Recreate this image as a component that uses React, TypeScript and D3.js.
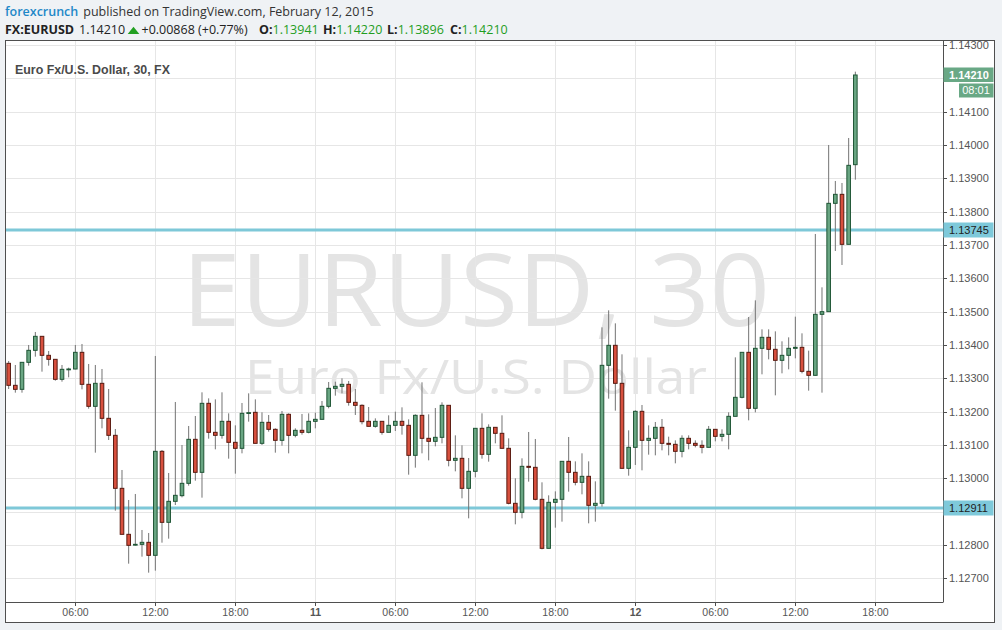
import React from "react";
import * as d3 from "d3";

// ---- Data (EUR/USD, 30-minute candles, starting Feb 10 2015 01:00) ----
const startTime = Date.UTC(2015, 1, 10, 1, 0);
const barMinutes = 30;

const opens = [
  1.13345, 1.13279, 1.13267, 1.13348, 1.13384, 1.13426, 1.13369, 1.13357, 1.13297, 1.13327,
  1.13328, 1.13378, 1.13282, 1.13216, 1.13285, 1.13180, 1.13129, 1.12970, 1.12832, 1.12800,
  1.12802, 1.12808, 1.12769, 1.13081, 1.12868, 1.12931, 1.12948, 1.12985, 1.13117, 1.13018,
  1.13225, 1.13138, 1.13129, 1.13171, 1.13108, 1.13090, 1.13195, 1.13198, 1.13105, 1.13168,
  1.13147, 1.13114, 1.13192, 1.13129, 1.13144, 1.13138, 1.13171, 1.13177, 1.13216, 1.13270,
  1.13276, 1.13282, 1.13228, 1.13219, 1.13171, 1.13156, 1.13171, 1.13138, 1.13159, 1.13171,
  1.13159, 1.13069, 1.13189, 1.13120, 1.13111, 1.13123, 1.13219, 1.13054, 1.13060, 1.12970,
  1.13021, 1.13150, 1.13072, 1.13153, 1.13135, 1.13090, 1.12925, 1.12898, 1.13036, 1.13033,
  1.12937, 1.12790, 1.12928, 1.12937, 1.13051, 1.13018, 1.12988, 1.13006, 1.12919, 1.12925,
  1.13339, 1.13399, 1.13285, 1.13030, 1.13093, 1.13201, 1.13114, 1.13120, 1.13153, 1.13105,
  1.13102, 1.13081, 1.13120, 1.13105, 1.13099, 1.13093, 1.13147, 1.13126, 1.13132, 1.13186,
  1.13243, 1.13378, 1.13210, 1.13390, 1.13423, 1.13387, 1.13354, 1.13369, 1.13390, 1.13393,
  1.13321, 1.13309, 1.13492, 1.13500, 1.13825, 1.13852, 1.13702, 1.13941,
];

const highs = [
  1.13352, 1.13340, 1.13348, 1.13400, 1.13439, 1.13426, 1.13382, 1.13357, 1.13340, 1.13332,
  1.13400, 1.13403, 1.13343, 1.13340, 1.13328, 1.13268, 1.13148, 1.13025, 1.12935, 1.12953,
  1.12845, 1.12836, 1.13367, 1.13085, 1.13016, 1.13229, 1.13100, 1.13157, 1.13187, 1.13258,
  1.13240, 1.13237, 1.13258, 1.13195, 1.13159, 1.13226, 1.13255, 1.13237, 1.13198, 1.13190,
  1.13150, 1.13202, 1.13195, 1.13150, 1.13193, 1.13195, 1.13197, 1.13232, 1.13289, 1.13290,
  1.13300, 1.13292, 1.13268, 1.13222, 1.13214, 1.13180, 1.13171, 1.13189, 1.13200, 1.13213,
  1.13177, 1.13192, 1.13288, 1.13192, 1.13211, 1.13228, 1.13219, 1.13129, 1.13099, 1.13061,
  1.13150, 1.13195, 1.13162, 1.13153, 1.13189, 1.13120, 1.13000, 1.13060, 1.13139, 1.13118,
  1.12988, 1.12949, 1.12961, 1.13051, 1.13124, 1.13051, 1.13075, 1.13051, 1.12991, 1.13453,
  1.13504, 1.13465, 1.13372, 1.13144, 1.13204, 1.13220, 1.13159, 1.13169, 1.13178, 1.13125,
  1.13114, 1.13129, 1.13129, 1.13114, 1.13114, 1.13157, 1.13147, 1.13147, 1.13198, 1.13363,
  1.13378, 1.13484, 1.13534, 1.13447, 1.13447, 1.13441, 1.13411, 1.13423, 1.13485, 1.13435,
  1.13383, 1.13733, 1.13573, 1.14000, 1.13892, 1.13886, 1.14021, 1.14220,
];

const lows = [
  1.13268, 1.13257, 1.13257, 1.13338, 1.13365, 1.13320, 1.13338, 1.13293, 1.13290, 1.13303,
  1.13327, 1.13267, 1.13209, 1.13077, 1.13150, 1.13115, 1.12903, 1.12832, 1.12744, 1.12798,
  1.12765, 1.12717, 1.12723, 1.12807, 1.12819, 1.12920, 1.12943, 1.12978, 1.12993, 1.12942,
  1.13119, 1.13087, 1.13119, 1.13059, 1.13014, 1.13075, 1.13170, 1.13105, 1.13100, 1.13140,
  1.13077, 1.13098, 1.13075, 1.13123, 1.13131, 1.13135, 1.13150, 1.13177, 1.13210, 1.13248,
  1.13255, 1.13218, 1.13190, 1.13162, 1.13156, 1.13152, 1.13131, 1.13138, 1.13142, 1.13131,
  1.13011, 1.13032, 1.13075, 1.13054, 1.13096, 1.13105, 1.13036, 1.13021, 1.12940, 1.12880,
  1.13003, 1.13059, 1.13050, 1.13105, 1.13090, 1.12922, 1.12862, 1.12880, 1.12990, 1.12934,
  1.12787, 1.12790, 1.12852, 1.12870, 1.12960, 1.12979, 1.12952, 1.12865, 1.12870, 1.12915,
  1.13239, 1.13203, 1.13030, 1.13008, 1.13040, 1.13024, 1.13071, 1.13069, 1.13084, 1.13069,
  1.13045, 1.13063, 1.13087, 1.13093, 1.13075, 1.13093, 1.13111, 1.13111, 1.13087, 1.13186,
  1.13240, 1.13174, 1.13198, 1.13312, 1.13357, 1.13249, 1.13315, 1.13327, 1.13360, 1.13315,
  1.13263, 1.13308, 1.13257, 1.13500, 1.13682, 1.13640, 1.13702, 1.13896,
];

const closes = [
  1.13279, 1.13267, 1.13348, 1.13384, 1.13426, 1.13369, 1.13357, 1.13297, 1.13327, 1.13328,
  1.13378, 1.13282, 1.13216, 1.13285, 1.13180, 1.13129, 1.12970, 1.12832, 1.12799, 1.12802,
  1.12808, 1.12769, 1.13081, 1.12868, 1.12931, 1.12949, 1.12985, 1.13117, 1.13018, 1.13225,
  1.13138, 1.13129, 1.13171, 1.13108, 1.13090, 1.13195, 1.13197, 1.13105, 1.13168, 1.13147,
  1.13114, 1.13192, 1.13129, 1.13144, 1.13138, 1.13171, 1.13177, 1.13216, 1.13270, 1.13276,
  1.13282, 1.13228, 1.13219, 1.13170, 1.13156, 1.13171, 1.13138, 1.13159, 1.13171, 1.13159,
  1.13069, 1.13189, 1.13120, 1.13111, 1.13123, 1.13219, 1.13054, 1.13060, 1.12970, 1.13021,
  1.13150, 1.13072, 1.13153, 1.13135, 1.13090, 1.12925, 1.12898, 1.13036, 1.13033, 1.12937,
  1.12790, 1.12928, 1.12937, 1.13051, 1.13018, 1.12988, 1.13006, 1.12919, 1.12925, 1.13339,
  1.13399, 1.13285, 1.13030, 1.13093, 1.13201, 1.13114, 1.13120, 1.13153, 1.13105, 1.13102,
  1.13081, 1.13120, 1.13105, 1.13099, 1.13093, 1.13147, 1.13126, 1.13132, 1.13186, 1.13243,
  1.13378, 1.13210, 1.13390, 1.13423, 1.13387, 1.13354, 1.13369, 1.13390, 1.13393, 1.13321,
  1.13309, 1.13492, 1.13500, 1.13825, 1.13852, 1.13702, 1.13939, 1.14210,
];

const priceTicks = [
  1.127, 1.128, 1.129, 1.13, 1.131, 1.132, 1.133, 1.134, 1.135, 1.136, 1.137, 1.138, 1.139,
  1.14, 1.141, 1.142, 1.143,
];
const levelLines = [1.13745, 1.12911];
const lastPrice = 1.1421;
const countdown = "08:01";

const headerFields = [
  { label: "O:", value: "1.13941" },
  { label: "H:", value: "1.14220" },
  { label: "L:", value: "1.13896" },
  { label: "C:", value: "1.14210" },
];

// ---- Layout ----
const W = 1002;
const H = 630;
const plot = { left: 6, right: 943, top: 40.5, bottom: 602 };
const frame = { left: 5.5, right: 994.5, top: 40.5, bottom: 622.5 };

const BG = "#eff2f5";
const GRID = "#e6e6e6";
const AXIS = "#4f4f4f";
const LEVEL = "#7ec8d8";
const UP_FILL = "#6aa683";
const UP_LINE = "#1f5535";
const DN_FILL = "#d8503e";
const DN_LINE = "#5a1a10";
const WICK = "#737373";
const LABEL_FONT = "'Liberation Sans', Arial, sans-serif";
const HEAD_FONT = "'Open Sans', 'Liberation Sans', sans-serif";

export default function App() {
  const candles = opens.map((o, i) => ({
    t: new Date(startTime + i * barMinutes * 60000),
    o,
    h: highs[i],
    l: lows[i],
    c: closes[i],
  }));

  const x = d3
    .scaleUtc()
    .domain([new Date(Date.UTC(2015, 1, 10, 6)), new Date(Date.UTC(2015, 1, 12, 18))])
    .range([75.33, 875.33]);
  const y = d3.scaleLinear().domain([1.127, 1.143]).range([578.33, 45]);

  const timeTicks = x
    .ticks(d3.utcHour.every(6) as any)
    .filter((d) => x(d) > plot.left && x(d) < plot.right);
  const fmtPrice = d3.format(".5f");
  const fmtHour = d3.utcFormat("%H:%M");

  // price labels that sit under a highlighted box are not drawn
  const boxed = [...levelLines, lastPrice];
  const visibleTickLabels = priceTicks.filter((p) => boxed.every((b) => Math.abs(y(p) - y(b)) > 9));

  const bodyW = 3.6;

  return (
    <svg
      width={W}
      height={H}
      style={{ position: "absolute", left: 0, top: 0, display: "block" }}
      fontFamily={LABEL_FONT}
    >
      <defs>
        <clipPath id="plotClip">
          <rect x={plot.left} y={plot.top} width={plot.right - plot.left} height={plot.bottom - plot.top} />
        </clipPath>
        <clipPath id="frameClip">
          <rect x={frame.left} y={frame.top} width={frame.right - frame.left} height={frame.bottom - frame.top} />
        </clipPath>
      </defs>
      <rect x={0} y={0} width={W} height={H} fill={BG} />

      {/* Header */}
      <text x={5} y={16} fontFamily={HEAD_FONT} fontSize={12.5}>
        <tspan fill="#1e88c8" fontWeight={600}>forexcrunch</tspan>
        <tspan fill="#333" dx={5}>published on TradingView.com, February 12, 2015</tspan>
      </text>
      <text x={5} y={34} fontFamily={HEAD_FONT} fontSize={12.5} fill="#222" fontWeight={700}>
        FX:EURUSD
      </text>
      <text x={79} y={34} fontFamily={HEAD_FONT} fontSize={12.5} fill="#222">
        {fmtPrice(lastPrice)}
      </text>
      <path d="M127.7,34 L133.5,26.8 L139.3,34 Z" fill="#22a022" />
      <text x={141.5} y={34} fontFamily={HEAD_FONT} fontSize={12.5} fill="#222">
        +0.00868 (+0.77%)
      </text>
      {headerFields.map((f, i) => {
        const xs = [259, 323, 387, 450][i];
        return (
          <text key={f.label} x={xs} y={34} fontFamily={HEAD_FONT} fontSize={12.5}>
            <tspan fill="#222" fontWeight={700}>{f.label}</tspan>
            <tspan fill="#1f9e1f">{f.value}</tspan>
          </text>
        );
      })}

      {/* Chart frame */}
      <rect
        x={frame.left}
        y={frame.top}
        width={frame.right - frame.left}
        height={frame.bottom - frame.top}
        fill="#fff"
      />

      <g clipPath="url(#plotClip)">
        {/* Watermark */}
        <text
          x={182}
          y={326}
          fontFamily={HEAD_FONT}
          fontSize={101}
          fill="#e4e4e4"
          textLength={588}
          lengthAdjust="spacingAndGlyphs"
        >
          EURUSD, 30
        </text>
        <text
          x={245}
          y={394}
          fontFamily={HEAD_FONT}
          fontSize={48}
          fill="#e4e4e4"
          textLength={462}
          lengthAdjust="spacingAndGlyphs"
        >
          Euro Fx/U.S. Dollar
        </text>

        {/* Grid */}
        {priceTicks.map((p) => (
          <line
            key={"gy" + p}
            x1={plot.left}
            x2={plot.right}
            y1={Math.round(y(p)) + 0.5}
            y2={Math.round(y(p)) + 0.5}
            stroke={GRID}
          />
        ))}
        {timeTicks.map((t) => (
          <line
            key={"gx" + t.getTime()}
            x1={Math.round(x(t)) + 0.5}
            x2={Math.round(x(t)) + 0.5}
            y1={plot.top}
            y2={plot.bottom}
            stroke={GRID}
          />
        ))}

        {/* Level lines */}
        {levelLines.map((p) => (
          <line key={"lv" + p} x1={plot.left} x2={plot.right} y1={y(p)} y2={y(p)} stroke={LEVEL} strokeWidth={3} />
        ))}

        {/* Candles */}
        {candles.map((d, i) => {
          const cx = x(d.t);
          const up = d.c >= d.o;
          const top = y(Math.max(d.o, d.c));
          const bot = y(Math.min(d.o, d.c));
          return (
            <g key={i}>
              <line x1={cx} x2={cx} y1={y(d.h)} y2={y(d.l)} stroke={WICK} strokeWidth={1} />
              <rect
                x={cx - bodyW / 2}
                y={top}
                width={bodyW}
                height={Math.max(0.8, bot - top)}
                fill={up ? UP_FILL : DN_FILL}
                stroke={up ? UP_LINE : DN_LINE}
                strokeWidth={1}
              />
            </g>
          );
        })}
      </g>

      {/* Title inside chart */}
      <text x={15} y={74} fontFamily={LABEL_FONT} fontSize={12.4} fontWeight={700} fill="#4a4a4a">
        Euro Fx/U.S. Dollar, 30, FX
      </text>

      {/* Axes lines */}
      <line x1={plot.right + 0.5} x2={plot.right + 0.5} y1={frame.top} y2={plot.bottom} stroke={AXIS} />
      <line x1={plot.left} x2={plot.right + 0.5} y1={plot.bottom + 0.5} y2={plot.bottom + 0.5} stroke={AXIS} />

      {/* Price axis */}
      <g clipPath="url(#frameClip)">
        {priceTicks.map((p) => (
          <line
            key={"pt" + p}
            x1={plot.right}
            x2={plot.right + 4}
            y1={Math.round(y(p)) + 0.5}
            y2={Math.round(y(p)) + 0.5}
            stroke={AXIS}
          />
        ))}
        {visibleTickLabels.map((p) => (
          <text key={"py" + p} x={949} y={y(p) + 4} fontSize={11} fill="#555">
            {fmtPrice(p)}
          </text>
        ))}
        {levelLines.map((p) => (
          <g key={"pl" + p}>
            <rect x={plot.right + 0.5} y={y(p) - 7.5} width={50} height={15} fill="#7ec9da" />
            <text x={949} y={y(p) + 4} fontSize={11} fill="#222">
              {fmtPrice(p)}
            </text>
          </g>
        ))}
        <rect x={plot.right + 0.5} y={y(lastPrice) - 7.5} width={50} height={14.5} fill="#69a885" />
        <text x={949} y={y(lastPrice) + 4} fontSize={11} fontWeight={700} fill="#fff">
          {fmtPrice(lastPrice)}
        </text>
        <rect x={959} y={y(lastPrice) + 8.5} width={34.5} height={14} fill="#69a885" />
        <text x={976} y={y(lastPrice) + 19.5} textAnchor="middle" fontSize={11} fill="#fff">
          {countdown}
        </text>
      </g>

      {/* Time axis */}
      {timeTicks.map((t) => {
        const isDay = t.getUTCHours() === 0;
        const xx = Math.round(x(t)) + 0.5;
        return (
          <g key={"tx" + t.getTime()}>
            <line x1={xx} x2={xx} y1={plot.bottom} y2={plot.bottom + 4} stroke={AXIS} />
            <text
              x={xx}
              y={616}
              textAnchor="middle"
              fontSize={10.5}
              fontWeight={isDay ? 700 : 400}
              fill="#555"
            >
              {isDay ? String(t.getUTCDate()) : fmtHour(t)}
            </text>
          </g>
        );
      })}

      {/* Outer frame */}
      <rect
        x={frame.left}
        y={frame.top}
        width={frame.right - frame.left}
        height={frame.bottom - frame.top}
        fill="none"
        stroke={AXIS}
      />
    </svg>
  );
}
